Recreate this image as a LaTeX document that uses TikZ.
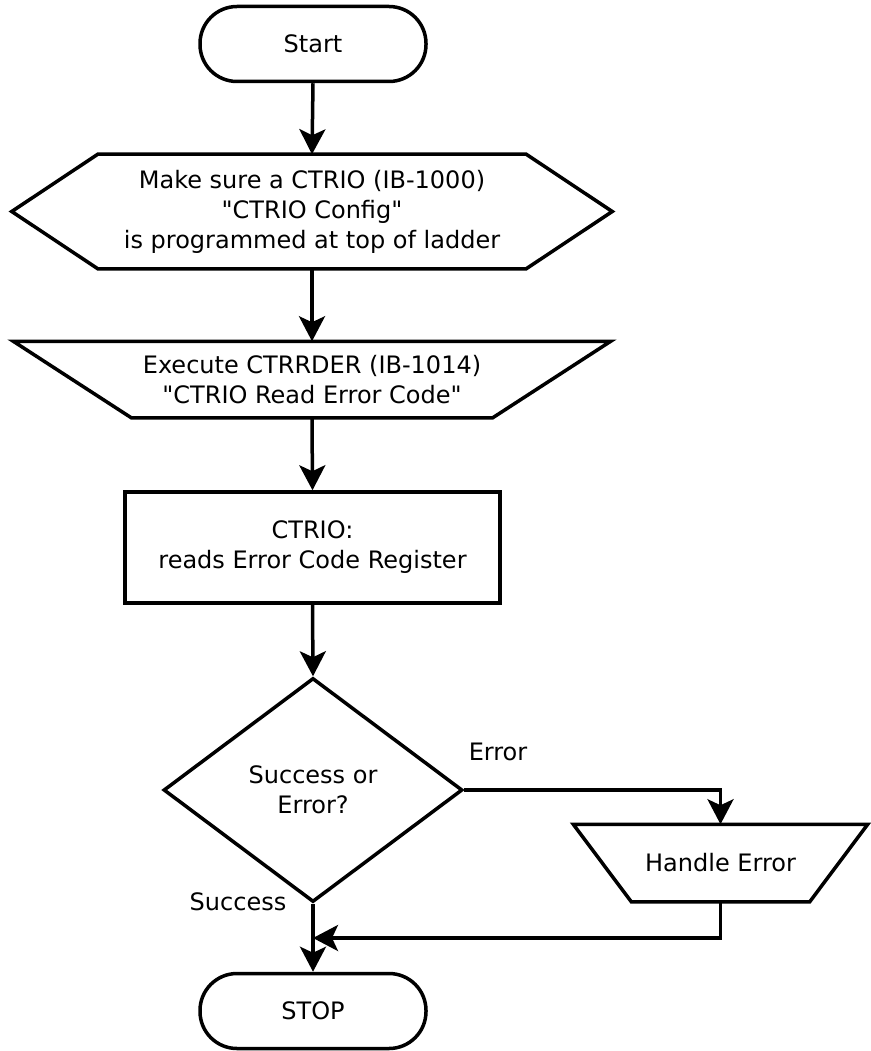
\documentclass[tikz,border=0pt]{standalone}
\usepackage{fontspec}
\setmainfont{DejaVu Sans}[Ligatures=TeXOff]
\usetikzlibrary{arrows.meta,shapes.geometric}
\tikzset{
  txt/.style={inner sep=0pt, align=center},
  term/.style={txt, draw, rectangle, rounded corners=37pt, minimum width=226pt, minimum height=75pt},
  procbox/.style={txt, draw, rectangle, minimum width=375pt, minimum height=111pt},
  decbox/.style={txt, draw, diamond, minimum width=299pt, minimum height=224pt},
  lbl/.style={inner sep=0pt},
  flow/.style={->},
}
\begin{document}
\begin{tikzpicture}[x=1pt,y=-1pt, line width=3.5pt, line join=miter,
  >={Stealth[length=25pt,width=26pt,inset=6pt]},
  font=\fontsize{24}{30}\selectfont]
\useasboundingbox (0,0) rectangle (870,1051);
\fill[white] (0,0) rectangle (870,1051);

\node[term] (start) at (313,44) {Start};

\node[txt, minimum width=597pt, minimum height=111pt] (hex) at (312,211.5)
  {Make sure a CTRIO (IB-1000)\\"CTRIO Config"\\is programmed at top of ladder};
\draw (hex.west) -- ([xshift=86pt]hex.north west) -- ([xshift=-86pt]hex.north east)
  -- (hex.east) -- ([xshift=-86pt]hex.south east) -- ([xshift=86pt]hex.south west) -- cycle;

\node[txt, minimum width=594pt, minimum height=73pt] (man) at (312,379.5)
  {Execute CTRRDER (IB-1014)\\"CTRIO Read Error Code"};
\draw (man.north west) -- (man.north east) -- ([xshift=-118pt]man.south east)
  -- ([xshift=118pt]man.south west) -- cycle;

\node[procbox] (proc) at (312.5,547.5) {CTRIO:\\reads Error Code Register};

\node[decbox] (dec) at (313,790) {Success or\\Error?};

\node[txt, minimum width=291pt, minimum height=74pt] (he) at (720.5,863) {Handle Error};
\draw (he.north west) -- (he.north east) -- ([xshift=-58pt]he.south east)
  -- ([xshift=58pt]he.south west) -- cycle;

\node[term] (stop) at (313,1011) {STOP};

\node[lbl] (lerr) at (498,752) {Error};
\node[lbl] (lsucc) at (238,902) {Success};

\coordinate (join) at (313,938);

\draw[flow] (start.south) -- (hex.north);
\draw[flow] (hex.south) -- (man.north);
\draw[flow] (man.south) -- (proc.north);
\draw[flow] (proc.south) -- (dec.north);
\draw[flow] (dec.east) -| (he.north);
\draw[flow] (dec.south) -- (stop.north);
\draw[flow] (he.south) |- (join);
\end{tikzpicture}
\end{document}
